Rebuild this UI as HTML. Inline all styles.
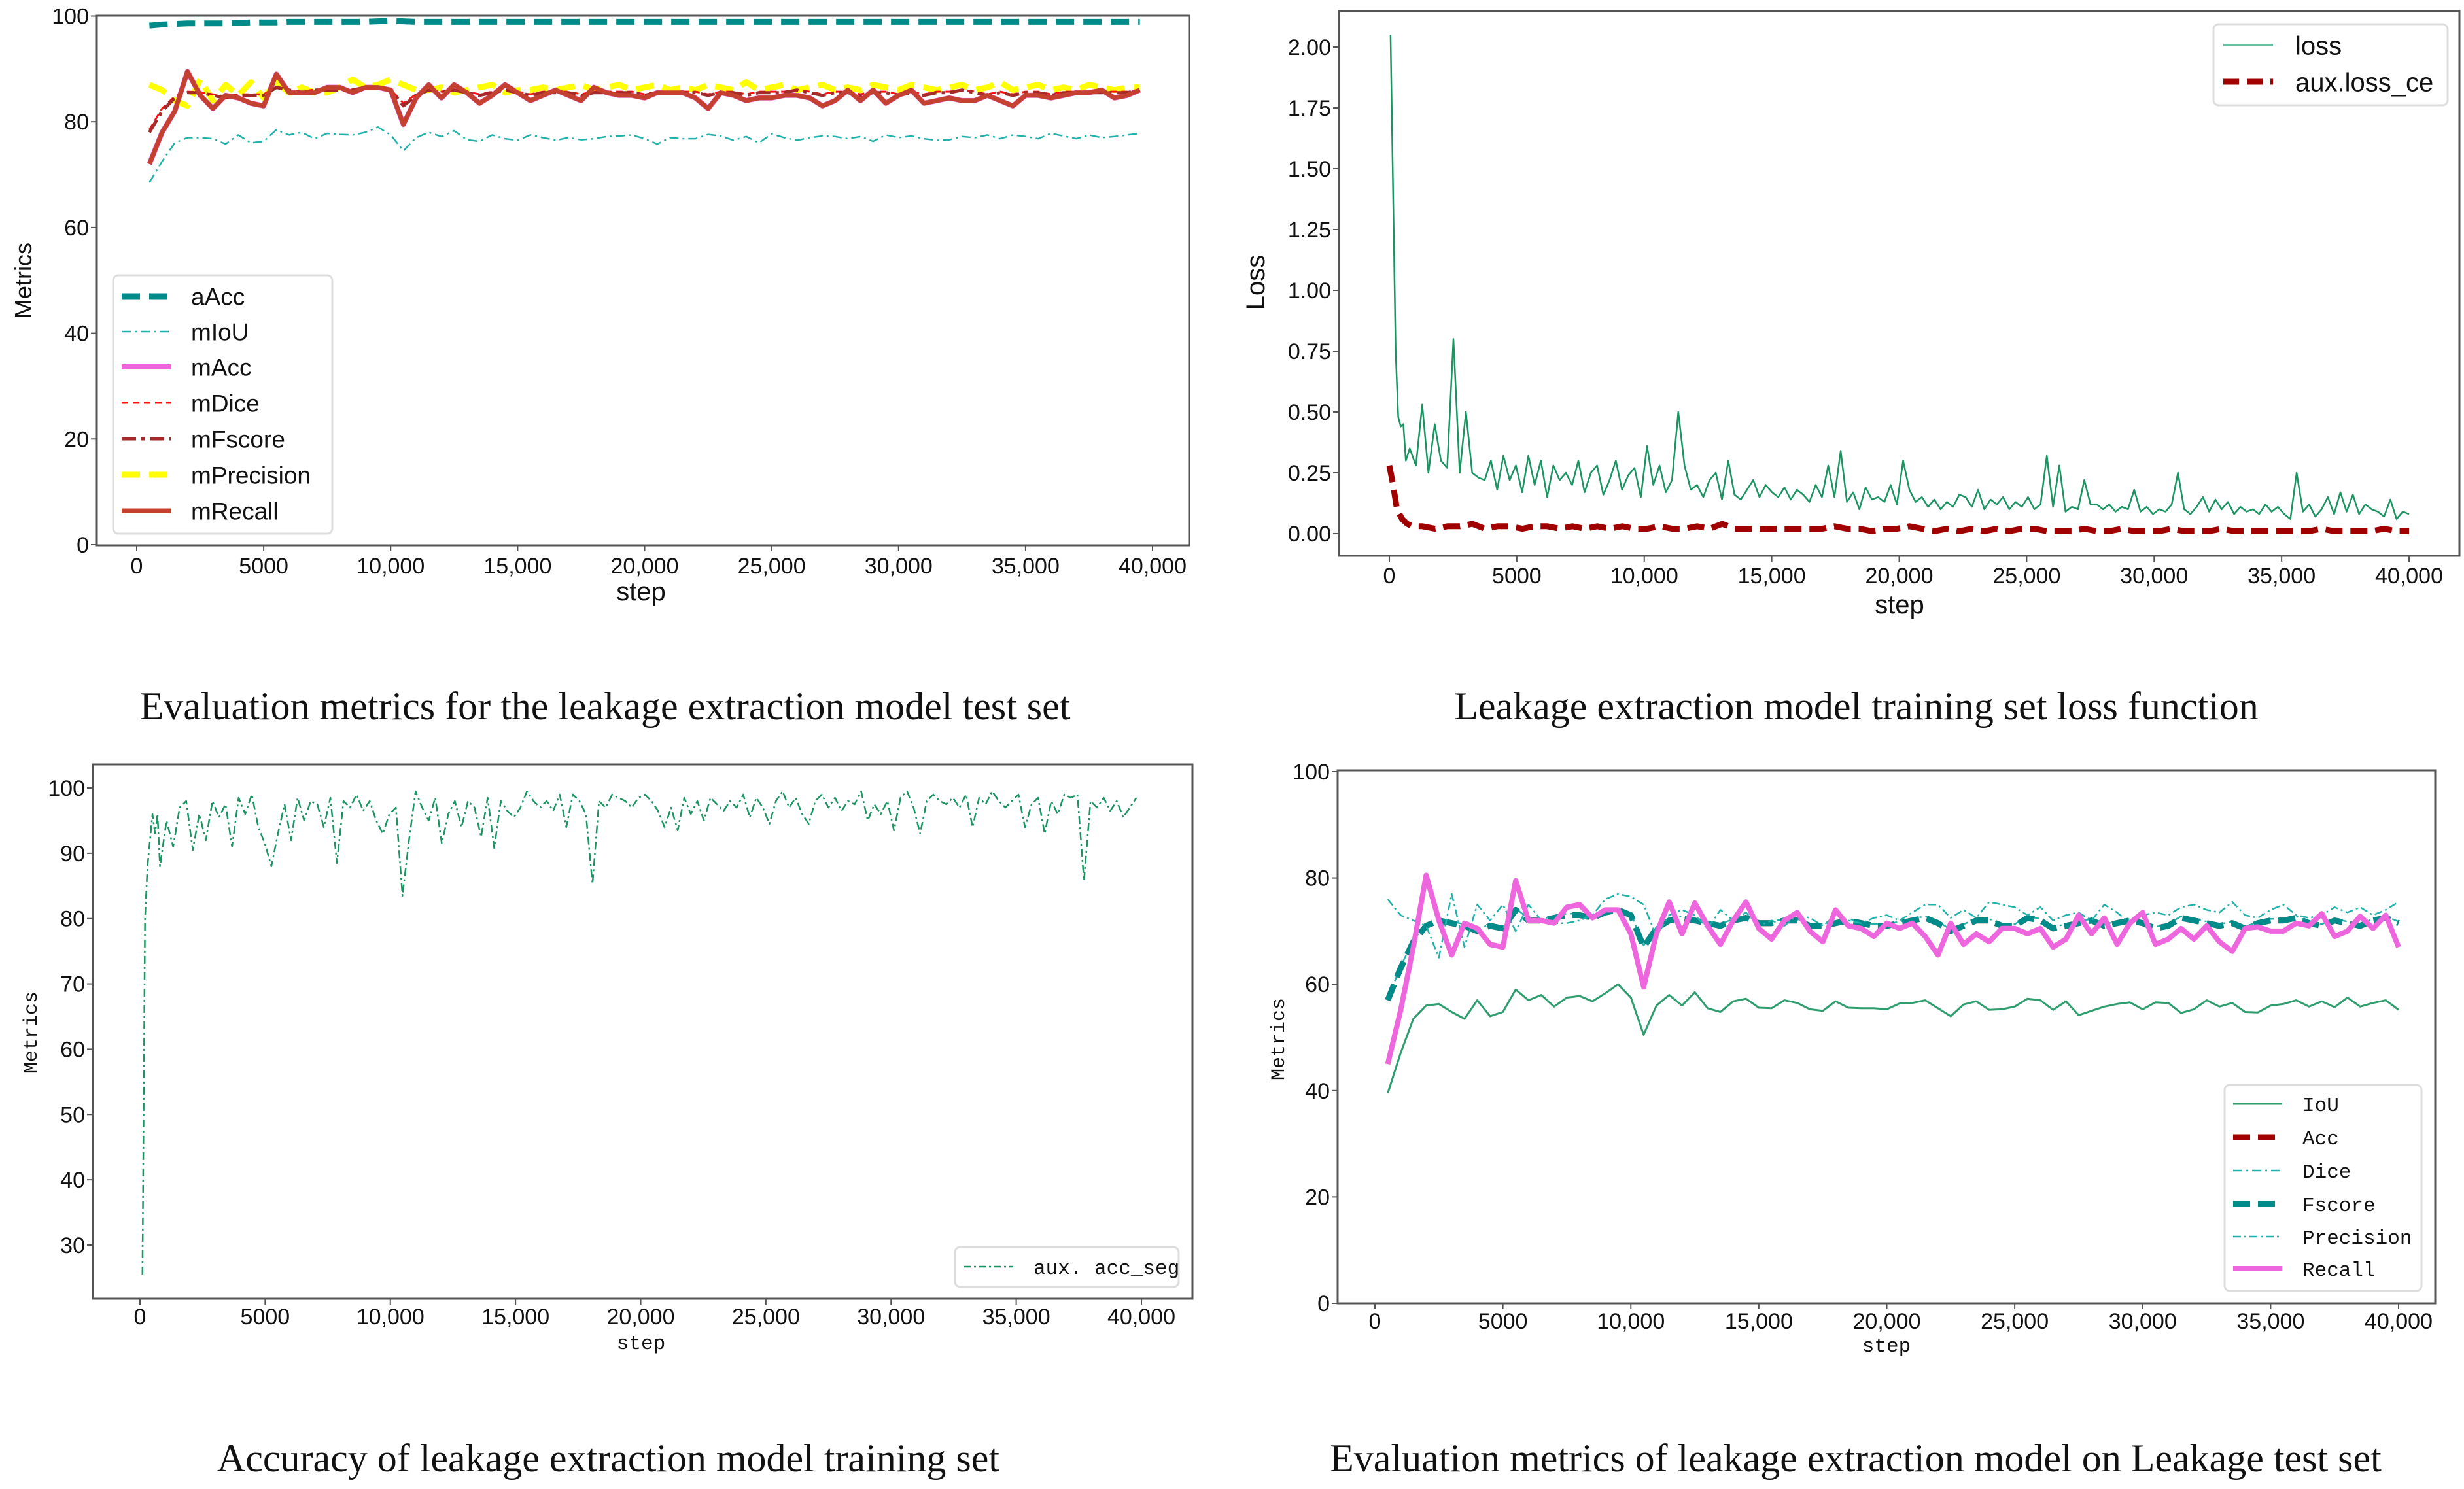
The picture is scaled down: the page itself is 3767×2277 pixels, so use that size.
<!DOCTYPE html>
<html><head><meta charset="utf-8">
<style>
html,body{margin:0;padding:0;background:#fff;}
svg{display:block;}
.tick{font-family:"Liberation Sans Narrow","Liberation Sans",sans-serif;font-size:34px;fill:#111;}
.cap{font-family:"Liberation Serif",serif;font-size:60px;fill:#111;}
.mono{font-family:"Liberation Mono","DejaVu Sans Mono",monospace;}
</style></head>
<body>
<svg id="root" width="3767" height="2277" viewBox="0 0 3767 2277" xmlns="http://www.w3.org/2000/svg">
<text class="cap" x="925" y="1100" text-anchor="middle">Evaluation metrics for the leakage extraction model test set</text>
<text class="cap" x="2838" y="1100" text-anchor="middle">Leakage extraction model training set loss function</text>
<text class="cap" x="930" y="2250" text-anchor="middle">Accuracy of leakage extraction model training set</text>
<text class="cap" x="2837" y="2250" text-anchor="middle">Evaluation metrics of leakage extraction model on Leakage test set</text>
</svg>
<script>
// ---------- Chart 1 data ----------
const c1XTicks=[0,5000,10000,15000,20000,25000,30000,35000,40000];
const c1XTickLabels=["0","5000","10,000","15,000","20,000","25,000","30,000","35,000","40,000"];
const c1YTicks=[0,20,40,60,80,100];
const c1StepStart=500, c1StepEnd=39500;
const c1aAcc=[98.2,98.4,98.5,98.6,98.6,98.6,98.6,98.7,98.8,98.8,
98.8,98.9,98.9,98.9,98.9,98.9,98.9,98.9,99.0,99.1,
99.0,98.9,98.9,98.9,98.9,98.9,98.9,98.9,98.9,98.9,
98.9,98.9,98.9,98.9,98.9,98.9,98.9,98.9,98.9,98.9,
98.9,98.9,98.9,98.9,98.9,98.9,98.9,98.9,98.9,98.9,
98.9,98.9,98.9,98.9,98.9,98.9,98.9,98.9,98.9,98.9,
98.9,98.9,98.9,98.9,98.9,98.9,98.9,98.9,98.9,98.9,
98.9,98.9,98.9,98.9,98.9,98.9,98.9,98.9,98.9];
const c1mIoU=[68.5,72.5,76.0,77.0,77.0,76.8,75.8,77.5,76.0,76.3,
78.5,77.5,78.0,76.8,77.8,77.6,77.5,78.0,79.0,77.5,
74.5,77.0,78.0,77.2,78.3,76.6,76.3,77.5,76.8,76.5,
77.5,77.0,76.5,77.0,76.6,76.8,77.2,77.3,77.5,76.8,
75.8,77.0,76.8,76.8,77.6,77.3,76.5,77.2,76.0,77.7,
77.0,76.5,77.0,77.3,77.2,76.8,77.2,76.3,77.5,77.0,
77.3,76.8,76.5,76.6,77.2,77.0,77.5,76.8,77.5,77.2,
76.8,77.8,77.3,76.8,77.5,77.0,77.2,77.5,77.8];
const c1mRecall=[72.0,78.0,82.0,89.5,85.0,82.5,85.0,84.5,83.5,83.0,
89.0,85.5,85.5,85.5,86.5,86.5,85.5,86.5,86.5,86.0,
79.5,84.5,87.0,84.5,87.0,85.5,83.5,85.0,87.0,85.5,
84.0,85.0,86.0,85.0,84.0,86.5,85.5,85.0,85.0,84.5,
85.5,85.5,85.5,84.5,82.5,85.5,85.0,84.0,84.5,84.5,
85.0,85.0,84.5,83.0,84.0,86.0,84.0,86.0,83.5,85.0,
86.0,83.5,84.0,84.5,84.0,84.0,85.0,84.0,83.0,85.0,
85.0,84.5,85.0,85.5,85.5,86.0,84.5,85.0,86.0];
const c1mAcc=c1mRecall.slice();
const c1mFscore=[78.0,82.0,84.5,85.5,85.5,85.0,84.5,85.0,85.0,85.0,
86.5,86.0,85.5,86.0,86.0,86.0,86.0,86.5,86.5,86.0,
83.0,85.0,86.0,85.5,86.0,85.5,85.0,85.5,86.0,85.5,
85.0,85.5,85.5,85.5,85.0,85.5,85.5,85.5,85.5,85.0,
85.5,85.5,85.5,85.5,85.0,85.5,85.5,85.0,85.5,85.5,
85.5,86.0,85.5,85.0,85.5,85.5,85.0,85.5,85.5,85.0,
85.5,85.0,85.5,85.5,86.0,85.5,85.0,85.5,85.0,85.5,
85.5,85.0,85.5,85.5,85.5,85.5,85.5,85.5,86.0];
const c1mDice=[78.5,82.5,84.8,85.7,85.6,85.2,84.8,85.2,85.2,85.2,
86.6,86.1,85.7,86.1,86.1,86.2,86.1,86.6,86.6,86.1,
83.5,85.2,86.1,85.7,86.1,85.7,85.2,85.7,86.1,85.7,
85.2,85.7,85.7,85.7,85.2,85.7,85.7,85.7,85.7,85.2,
85.7,85.7,85.7,85.7,85.2,85.7,85.7,85.2,85.7,85.7,
85.7,86.1,85.7,85.2,85.7,85.7,85.2,85.7,85.7,85.2,
85.7,85.2,85.7,85.7,86.1,85.7,85.2,85.7,85.2,85.7,
85.7,85.2,85.7,85.7,85.7,85.7,85.7,85.7,86.1];
const c1mPrecision=[87.0,86.0,84.0,83.0,88.0,84.0,87.0,85.0,87.5,84.5,
87.5,85.5,86.5,85.5,85.5,86.5,88.0,86.5,87.0,88.0,
87.0,86.0,86.0,86.5,85.5,86.0,86.5,87.0,85.5,86.0,
86.0,86.5,86.0,86.5,87.0,86.0,86.5,87.0,86.0,86.5,
87.0,86.0,86.5,86.0,87.0,86.5,86.0,87.5,86.0,86.5,
87.0,86.0,86.5,87.0,86.0,86.5,86.0,87.0,86.5,86.0,
87.0,86.5,86.0,86.5,87.0,86.0,86.5,87.5,86.0,86.5,
87.0,86.0,86.5,86.0,87.0,86.5,86.0,86.5,86.5];

// ---------- Chart 2 data ----------
const c2YTicks=[0,0.25,0.5,0.75,1.0,1.25,1.5,1.75,2.0];
const c2YTickLabels=["0.00","0.25","0.50","0.75","1.00","1.25","1.50","1.75","2.00"];
const lossEarlySteps=[50,150,250,350,450,550,650];
const lossEarlyValues=[2.05,1.40,0.75,0.48,0.44,0.45,0.30];
const lossRegStart=800, lossRegEnd=40000;
const lossValues=[0.35,0.28,0.53,0.25,0.45,0.30,0.27,0.80,0.25,0.50,
0.25,0.23,0.22,0.30,0.18,0.32,0.22,0.28,0.17,0.32,
0.20,0.30,0.15,0.28,0.22,0.25,0.20,0.30,0.17,0.25,
0.28,0.16,0.22,0.30,0.18,0.24,0.27,0.15,0.36,0.20,
0.28,0.17,0.22,0.50,0.28,0.18,0.20,0.15,0.22,0.25,
0.14,0.30,0.16,0.14,0.18,0.22,0.15,0.20,0.17,0.15,
0.19,0.14,0.18,0.16,0.13,0.20,0.15,0.28,0.15,0.34,
0.13,0.17,0.10,0.19,0.14,0.15,0.13,0.20,0.12,0.30,
0.18,0.13,0.15,0.11,0.14,0.10,0.13,0.11,0.16,0.15,
0.11,0.18,0.10,0.14,0.12,0.15,0.10,0.13,0.11,0.15,
0.10,0.12,0.32,0.11,0.28,0.09,0.11,0.10,0.22,0.12,
0.12,0.10,0.12,0.09,0.11,0.10,0.18,0.09,0.11,0.08,
0.10,0.09,0.12,0.25,0.10,0.08,0.11,0.15,0.09,0.14,
0.10,0.13,0.08,0.11,0.09,0.10,0.08,0.12,0.09,0.11,
0.08,0.06,0.25,0.09,0.12,0.07,0.10,0.15,0.08,0.17,
0.09,0.16,0.08,0.12,0.10,0.09,0.07,0.14,0.06,0.09,0.08];
const ceEarlySteps=[0,150,300,500,700,900,1100];
const ceEarlyValues=[0.28,0.20,0.10,0.06,0.04,0.03,0.03];
const ceRegStart=1300, ceRegEnd=40000;
const ceValues=[0.03,0.02,0.03,0.03,0.04,0.02,0.03,0.03,0.02,0.03,
0.03,0.02,0.03,0.02,0.03,0.02,0.03,0.02,0.02,0.03,
0.02,0.02,0.03,0.02,0.04,0.02,0.02,0.02,0.02,0.02,
0.02,0.02,0.02,0.03,0.02,0.02,0.01,0.02,0.02,0.03,
0.02,0.01,0.02,0.01,0.02,0.01,0.02,0.01,0.02,0.02,
0.01,0.01,0.01,0.02,0.01,0.01,0.02,0.01,0.01,0.01,
0.02,0.01,0.01,0.01,0.02,0.01,0.01,0.01,0.01,0.01,
0.01,0.01,0.02,0.01,0.01,0.01,0.01,0.02,0.01,0.01];

// ---------- Chart 3 data ----------
const c3YTicks=[30,40,50,60,70,80,90,100];
const accEarlySteps=[100,200,300,400,500,600,700];
const accEarlyValues=[25.5,80,88,92,96,93,96];
const accRegStart=800, accRegEnd=39800;
const accValues=[88.0,95.0,91.0,97.0,98.0,90.5,96.0,92.0,98.0,95.5,
97.5,91.0,98.5,96.0,99.0,94.0,91.5,88.0,93.0,97.5,
92.0,98.5,95.0,98.0,97.5,94.0,98.5,88.5,98.0,97.0,
99.0,96.5,98.0,95.0,93.0,96.0,97.0,83.5,92.0,99.5,
97.0,95.0,98.5,91.5,96.0,98.0,94.0,98.0,97.0,92.5,
98.5,90.8,98.0,96.5,95.5,97.0,99.5,98.0,97.0,98.0,
96.5,99.0,94.0,99.0,98.0,96.0,85.3,98.0,97.0,99.0,
98.5,98.0,97.0,98.5,99.0,98.0,96.5,94.0,97.0,93.5,
98.5,96.0,98.0,95.0,98.5,97.5,96.5,98.0,97.0,99.0,
95.5,98.5,97.0,94.5,98.0,99.5,97.0,98.5,96.0,94.5,
98.0,99.0,97.0,98.5,96.5,98.0,97.5,99.5,95.0,97.5,
96.0,98.0,93.5,98.5,99.5,97.0,93.0,98.0,99.0,98.0,
97.5,98.5,97.0,99.0,94.0,98.5,97.5,99.5,98.0,97.0,
98.0,99.0,94.0,97.5,98.5,93.0,98.0,96.0,99.0,98.5,
99.0,85.8,98.0,97.0,98.5,96.5,98.0,95.5,97.0,98.5];

// ---------- Chart 4 data ----------
const c4StepStart=500, c4StepEnd=40000;
const c4IoU=[39.5,47.0,53.5,56.0,56.3,54.8,53.5,57.0,54.0,54.8,
59.0,57.0,58.0,55.8,57.5,57.8,56.8,58.3,60.0,57.5,
50.5,56.0,58.0,56.0,58.5,55.5,54.8,56.8,57.3,55.6,
55.5,57.0,56.5,55.3,55.0,56.8,55.6,55.5,55.5,55.3,
56.4,56.5,57.0,55.5,54.0,56.2,56.8,55.2,55.3,55.8,
57.3,57.0,55.2,56.8,54.2,55.0,55.8,56.3,56.6,55.3,
56.6,56.5,54.6,55.3,57.0,55.8,56.5,54.8,54.7,56.0,
56.3,57.0,55.8,56.8,55.7,57.5,55.8,56.5,57.0,55.2];
const c4Recall=[45.0,55.0,67.0,80.5,72.0,65.5,71.5,70.5,67.5,67.0,
79.5,72.0,72.0,71.5,74.5,75.0,72.5,74.0,74.0,69.5,
59.5,69.5,75.5,69.5,75.3,71.0,67.5,72.0,75.5,70.5,
68.5,72.0,73.5,70.0,68.0,74.0,71.0,70.5,69.0,71.5,
70.5,71.5,69.0,65.5,71.5,67.5,69.5,68.0,70.5,70.5,
69.5,70.5,67.0,68.5,73.0,69.5,72.5,67.5,71.5,73.5,
67.5,68.5,70.5,68.5,71.0,68.0,66.2,70.5,70.8,70.0,
70.0,71.5,71.0,73.3,69.0,70.0,72.8,70.5,73.0,67.0];
const c4Fscore=[57.0,63.0,68.0,71.0,72.0,71.5,71.0,70.0,71.0,70.5,
74.0,72.0,72.0,72.5,73.0,73.0,72.5,73.5,74.0,73.0,
67.0,70.5,72.0,72.5,72.0,71.5,71.0,72.0,72.5,71.5,
71.5,72.0,72.0,71.0,71.0,71.5,72.0,71.5,71.0,71.0,
71.5,72.0,72.5,71.5,70.0,71.0,72.0,72.0,71.0,71.0,
72.5,72.0,70.5,71.0,71.5,72.0,71.0,71.5,72.0,71.5,
70.5,71.0,72.5,72.0,71.5,71.0,71.5,70.5,71.5,72.0,
72.0,72.5,71.5,71.0,72.0,71.5,71.0,72.0,72.5,71.5];
const c4Acc=c4Fscore.slice();
const c4Dice=c4Fscore.map(v=>v+0.3);
const c4Precision=[76.0,73.0,72.0,71.0,65.0,77.0,67.0,75.0,72.0,75.0,
70.0,75.0,72.0,71.5,71.5,72.0,73.0,76.0,77.0,76.5,
75.0,69.0,73.0,74.0,73.0,70.5,74.0,72.0,73.5,71.0,
72.0,71.0,73.0,72.5,71.0,73.0,72.0,71.5,72.5,73.0,
72.0,73.5,75.0,75.0,72.5,74.0,72.5,75.5,75.0,74.5,
73.0,74.5,72.0,73.0,73.5,72.0,75.0,73.5,71.5,73.0,
73.5,73.0,74.5,75.0,74.0,73.5,75.5,73.0,72.5,74.0,
75.0,73.0,72.5,73.0,74.5,73.5,74.5,73.0,74.0,75.5];
const c4YTicks=[0,20,40,60,80,100];

const NS="http://www.w3.org/2000/svg";
const root=document.getElementById('root');
function mk(tag,attrs,parent){const e=document.createElementNS(NS,tag);for(const k in attrs)e.setAttribute(k,attrs[k]);(parent||root).appendChild(e);return e;}
function regSteps(a,b,n){const s=[];for(let i=0;i<n;i++)s.push(a+(b-a)*i/(n-1));return s;}
function scale(d0,d1,p0,p1){return v=>p0+(v-d0)*(p1-p0)/(d1-d0);}

function axes(g,box,sx,sy,xt,xtl,yt,ytl,xLabY){
  const f=mk('rect',{x:box.l,y:box.t,width:box.r-box.l,height:box.b-box.t,fill:'none',stroke:'#555','stroke-width':3},g);
  
  
  xt.forEach((v,i)=>{
    const x=sx(v);
    mk('line',{x1:x,y1:box.b,x2:x,y2:box.b+9,stroke:'#555','stroke-width':2},g);
    const t=mk('text',{x:x,y:xLabY,'text-anchor':'middle',class:'tick'},g);
    t.textContent=xtl[i];
    
    
  });
  yt.forEach((v,i)=>{
    const y=sy(v);
    mk('line',{x1:box.l-9,y1:y,x2:box.l,y2:y,stroke:'#555','stroke-width':2},g);
    const t=mk('text',{x:box.l-12,y:y+12,'text-anchor':'end',class:'tick'},g);
    t.textContent=ytl[i];
    
    
  });
}
function line(g,xs,ys,sx,sy,st,name){
  const d=xs.map((x,i)=>(i?'L':'M')+sx(x).toFixed(1)+' '+sy(ys[i]).toFixed(1)).join(' ');
  const p=mk('path',{d:d,fill:'none',stroke:st.c,'stroke-width':st.w,'stroke-dasharray':st.d||'none','stroke-linejoin':'round'},g);
  
  
}
function legend(g,box,entries,lx1,lx2,tx,fs,cls){
  const r=mk('rect',{x:box.l,y:box.t,width:box.r-box.l,height:box.b-box.t,rx:8,fill:'#fff','fill-opacity':0.85,stroke:'#ddd','stroke-width':3},g);
  
  
  entries.forEach(e=>{
    mk('line',{x1:lx1,y1:e.y,x2:lx2,y2:e.y,stroke:e.st.c,'stroke-width':e.st.w,'stroke-dasharray':e.st.d||'none'},g);
    const t=mk('text',{x:tx,y:e.y+fs*0.36,'font-size':fs,fill:'#111',class:cls,'font-family':'"Liberation Sans Narrow","Liberation Sans",sans-serif'},g);
    t.textContent=e.n;
    
    
  });
}
function ylabel(g,x,y,txt,fs,cls){
  const t=mk('text',{x:x,y:y,'text-anchor':'middle','font-size':fs,fill:'#111',class:cls||'','font-family':'"Liberation Sans","DejaVu Sans",sans-serif',transform:`rotate(-90 ${x} ${y})`},g);
  t.textContent=txt;
  
  
}
function xlabel(g,x,y,txt,fs,cls){
  const t=mk('text',{x:x,y:y,'text-anchor':'middle','font-size':fs,fill:'#111',class:cls||'','font-family':'"Liberation Sans Narrow","Liberation Sans",sans-serif'},g);
  t.textContent=txt;
  
  
}
const TEAL='#008B8B', LSG='#20B2AA', PINK='#EE66DD', GREEN='#1a9460', DRED='#A00000';

// ---------- Chart 1 ----------
(function(){
  const g=mk('g',{});
  
  
  const box={l:148,r:1818,t:24,b:834};
  const sx=scale(0,40000,209,1762), sy=scale(0,100,833,24.5);
  const X=a=>regSteps(c1StepStart,c1StepEnd,a.length);
  axes(g,box,sx,sy,c1XTicks,c1XTickLabels,c1YTicks,c1YTicks.map(String),877);
  const S={aAcc:{c:TEAL,w:9,d:'28,14'},mIoU:{c:LSG,w:2.5,d:'14,6,3,6'},mAcc:{c:PINK,w:8},mDice:{c:'#ff1010',w:3,d:'10,7'},mFscore:{c:'#A52A2A',w:5,d:'22,8,5,8'},mPrecision:{c:'#FFFF00',w:9,d:'28,14'},mRecall:{c:'#C5412F',w:7}};
  line(g,X(c1aAcc),c1aAcc,sx,sy,S.aAcc,'series-aAcc');
  line(g,X(c1mIoU),c1mIoU,sx,sy,S.mIoU,'series-mIoU');
  line(g,X(c1mAcc),c1mAcc,sx,sy,S.mAcc,'series-mAcc');
  line(g,X(c1mPrecision),c1mPrecision,sx,sy,S.mPrecision,'series-mPrecision');
  line(g,X(c1mDice),c1mDice,sx,sy,S.mDice,'series-mDice');
  line(g,X(c1mFscore),c1mFscore,sx,sy,S.mFscore,'series-mFscore');
  line(g,X(c1mRecall),c1mRecall,sx,sy,S.mRecall,'series-mRecall');
  const ys=[453,507,561,616,671,726,781];
  legend(g,{l:173,r:508,t:421,b:816},['aAcc','mIoU','mAcc','mDice','mFscore','mPrecision','mRecall'].map((n,i)=>({n:n,y:ys[i],st:S[n]})),186,261,292,37,'');
  ylabel(g,48,429,'Metrics',36);
  xlabel(g,980,918,'step',40);
})();

// ---------- Chart 2 ----------
(function(){
  const g=mk('g',{});
  
  
  const box={l:2047,r:3760,t:17,b:850};
  const sx=scale(0,40000,2124,3683), sy=scale(0,2,816,72);
  axes(g,box,sx,sy,c1XTicks,c1XTickLabels,c2YTicks,c2YTickLabels,892);
  const lx=lossEarlySteps.concat(regSteps(lossRegStart,lossRegEnd,lossValues.length));
  const ly=lossEarlyValues.concat(lossValues);
  const cx=ceEarlySteps.concat(regSteps(ceRegStart,ceRegEnd,ceValues.length));
  const cy=ceEarlyValues.concat(ceValues);
  line(g,lx,ly,sx,sy,{c:GREEN,w:2.5},'series-loss');
  line(g,cx,cy,sx,sy,{c:DRED,w:9,d:'26,12'},'series-aux-loss-ce');
  legend(g,{l:3384,r:3742,t:37,b:161},[{n:'loss',y:69,st:{c:'#66C2A0',w:3.5}},{n:'aux.loss_ce',y:125,st:{c:DRED,w:9,d:'24,12'}}],3399,3475,3509,40,'');
  ylabel(g,1933,432,'Loss',40);
  xlabel(g,2904,938,'step',40);
})();

// ---------- Chart 3 ----------
(function(){
  const g=mk('g',{});
  
  
  const box={l:142,r:1823,t:1169,b:1986};
  const sx=scale(0,40000,214,1745), sy=scale(30,100,1904,1205);
  axes(g,box,sx,sy,c1XTicks,c1XTickLabels,c3YTicks,c3YTicks.map(String),2025);
  const ax=accEarlySteps.concat(regSteps(accRegStart,accRegEnd,accValues.length));
  const ay=accEarlyValues.concat(accValues);
  line(g,ax,ay,sx,sy,{c:GREEN,w:2.5,d:'12,5,3,5'},'series-aux-acc-seg');
  legend(g,{l:1460,r:1802,t:1907,b:1968},[{n:'aux. acc_seg',y:1937,st:{c:GREEN,w:2.5,d:'10,5,3,5'}}],1474,1549,1580,31,'mono');
  ylabel(g,56,1579,'Metrics',30,'mono');
  xlabel(g,980,2063,'step',31,'mono');
})();

// ---------- Chart 4 ----------
(function(){
  const g=mk('g',{});
  
  
  const box={l:2045,r:3723,t:1178,b:1993};
  const sx=scale(0,40000,2102,3667), sy=scale(0,100,1993,1180);
  axes(g,box,sx,sy,c1XTicks,c1XTickLabels,c4YTicks,c4YTicks.map(String),2032);
  const X=a=>regSteps(c4StepStart,c4StepEnd,a.length);
  const S={IoU:{c:'#2E9E6E',w:3},Acc:{c:DRED,w:9,d:'26,12'},Dice:{c:LSG,w:2.5,d:'14,6,3,6'},Fscore:{c:TEAL,w:9,d:'26,12'},Precision:{c:LSG,w:2.5,d:'12,5,3,5'},Recall:{c:PINK,w:8}};
  line(g,X(c4IoU),c4IoU,sx,sy,S.IoU,'series-IoU');
  line(g,X(c4Acc),c4Acc,sx,sy,S.Acc,'series-Acc');
  line(g,X(c4Dice),c4Dice,sx,sy,S.Dice,'series-Dice');
  line(g,X(c4Fscore),c4Fscore,sx,sy,S.Fscore,'series-Fscore');
  line(g,X(c4Precision),c4Precision,sx,sy,S.Precision,'series-Precision');
  line(g,X(c4Recall),c4Recall,sx,sy,S.Recall,'series-Recall');
  const ys=[1688,1739,1790,1841,1891,1940];
  legend(g,{l:3401,r:3702,t:1659,b:1974},['IoU','Acc','Dice','Fscore','Precision','Recall'].map((n,i)=>({n:n,y:ys[i],st:S[n]})),3414,3489,3520,31,'mono');
  ylabel(g,1963,1589,'Metrics',30,'mono');
  xlabel(g,2884,2067,'step',31,'mono');
})();
</script>
</body></html>
